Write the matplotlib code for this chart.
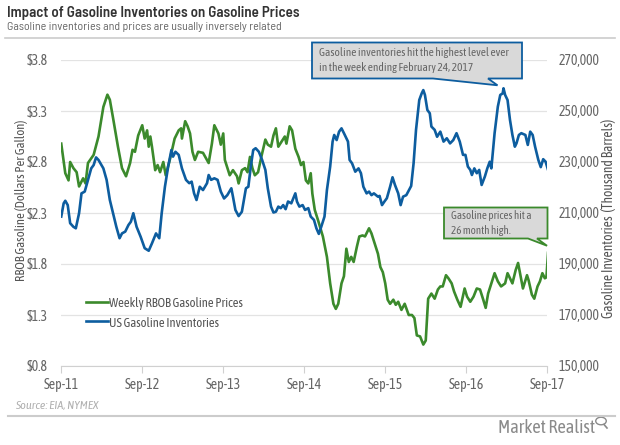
import matplotlib
matplotlib.use("Agg")
import matplotlib.pyplot as plt
from matplotlib.lines import Line2D
from matplotlib.patches import Polygon, Circle
import numpy as np

plt.rcParams['font.family'] = ['Asap Condensed', 'Lato', 'DejaVu Sans']
HEAD = ['Barlow Semi Condensed', 'Asap Condensed', 'DejaVu Sans']

# ---- data (x in decimal years) ----
price_t = [2011.67, 2011.72, 2011.76, 2011.78, 2011.82, 2011.86, 2011.89, 2011.94, 2011.97, 2012.00,
           2012.07, 2012.13, 2012.19, 2012.24, 2012.27, 2012.31, 2012.37, 2012.42, 2012.47, 2012.52,
           2012.55, 2012.58, 2012.62, 2012.67, 2012.70, 2012.73, 2012.75, 2012.77, 2012.79, 2012.83,
           2012.86, 2012.89, 2012.93, 2012.96, 2013.01, 2013.07, 2013.12, 2013.15, 2013.16, 2013.20,
           2013.23, 2013.26, 2013.29, 2013.32, 2013.36, 2013.42, 2013.49, 2013.53, 2013.56, 2013.61,
           2013.64, 2013.67, 2013.69, 2013.75, 2013.79, 2013.84, 2013.86, 2013.90, 2013.94, 2013.97,
           2014.00, 2014.03, 2014.06, 2014.10, 2014.14, 2014.19, 2014.22, 2014.26, 2014.29, 2014.32,
           2014.35, 2014.39, 2014.43, 2014.45, 2014.49, 2014.52, 2014.56, 2014.60, 2014.63, 2014.66,
           2014.69, 2014.72, 2014.75, 2014.77, 2014.80, 2014.84, 2014.90, 2014.95, 2014.99, 2015.03,
           2015.06, 2015.09, 2015.13, 2015.16, 2015.19, 2015.22, 2015.25, 2015.28, 2015.32, 2015.35,
           2015.39, 2015.42, 2015.47, 2015.50, 2015.54, 2015.58, 2015.61, 2015.64, 2015.67, 2015.70,
           2015.73, 2015.77, 2015.80, 2015.83, 2015.87, 2015.91, 2015.96, 2016.00, 2016.03, 2016.06,
           2016.10, 2016.14, 2016.17, 2016.20, 2016.24, 2016.28, 2016.32, 2016.35, 2016.38, 2016.42,
           2016.45, 2016.49, 2016.52, 2016.56, 2016.60, 2016.65, 2016.68, 2016.72, 2016.76, 2016.80,
           2016.84, 2016.88, 2016.91, 2016.94, 2016.98, 2017.02, 2017.06, 2017.10, 2017.15, 2017.18,
           2017.21, 2017.24, 2017.28, 2017.31, 2017.35, 2017.37, 2017.42, 2017.44, 2017.48, 2017.51,
           2017.55, 2017.58, 2017.61, 2017.64, 2017.66, 2017.68]
price_v = [2.98, 2.69, 2.62, 2.80, 2.74, 2.70, 2.56, 2.64, 2.59, 2.79,
           2.87, 3.05, 3.34, 3.46, 3.41, 3.23, 2.95, 2.74, 2.66, 2.79,
           2.92, 2.90, 3.06, 3.16, 3.03, 3.11, 2.95, 3.05, 2.95, 2.72,
           2.77, 2.70, 2.80, 2.67, 2.82, 3.03, 3.11, 3.13, 3.03, 3.20,
           3.15, 3.08, 2.90, 2.82, 2.90, 2.89, 2.79, 2.98, 3.16, 3.08,
           2.97, 3.08, 2.82, 2.67, 2.72, 2.66, 2.59, 2.72, 2.74, 2.70,
           2.85, 2.74, 2.67, 2.70, 2.85, 3.02, 2.97, 2.95, 3.06, 3.13,
           2.95, 3.00, 3.05, 2.98, 3.15, 3.11, 2.93, 2.85, 2.77, 2.80,
           2.62, 2.59, 2.69, 2.49, 2.33, 2.23, 2.07, 1.87, 1.61, 1.41,
           1.36, 1.41, 1.61, 1.68, 1.95, 1.82, 1.87, 1.82, 1.97, 2.07,
           2.08, 2.07, 2.15, 2.10, 2.00, 1.90, 1.77, 1.72, 1.61, 1.45,
           1.41, 1.45, 1.40, 1.43, 1.35, 1.41, 1.30, 1.30, 1.27, 1.10,
           1.09, 1.01, 1.05, 1.46, 1.51, 1.46, 1.55, 1.58, 1.58, 1.69,
           1.66, 1.61, 1.53, 1.45, 1.38, 1.56, 1.48, 1.43, 1.48, 1.56,
           1.55, 1.45, 1.37, 1.51, 1.61, 1.71, 1.63, 1.58, 1.61, 1.71,
           1.66, 1.61, 1.74, 1.81, 1.64, 1.56, 1.69, 1.64, 1.50, 1.46,
           1.58, 1.63, 1.71, 1.66, 1.67, 1.91]

inv_t = [2011.67, 2011.70, 2011.72, 2011.75, 2011.78, 2011.82, 2011.85, 2011.89, 2011.92, 2011.96,
         2012.00, 2012.04, 2012.07, 2012.10, 2012.13, 2012.19, 2012.23, 2012.27, 2012.31, 2012.35,
         2012.39, 2012.42, 2012.46, 2012.50, 2012.53, 2012.56, 2012.60, 2012.65, 2012.70, 2012.75,
         2012.79, 2012.84, 2012.88, 2012.91, 2012.95, 2012.99, 2013.03, 2013.05, 2013.08, 2013.12,
         2013.16, 2013.21, 2013.25, 2013.28, 2013.31, 2013.34, 2013.38, 2013.42, 2013.47, 2013.49,
         2013.52, 2013.56, 2013.60, 2013.64, 2013.68, 2013.72, 2013.77, 2013.79, 2013.82, 2013.86,
         2013.90, 2013.95, 2013.98, 2014.01, 2014.04, 2014.07, 2014.11, 2014.15, 2014.19, 2014.22,
         2014.26, 2014.29, 2014.32, 2014.35, 2014.38, 2014.41, 2014.44, 2014.47, 2014.51, 2014.56,
         2014.58, 2014.61, 2014.65, 2014.68, 2014.72, 2014.75, 2014.79, 2014.82, 2014.85, 2014.88,
         2014.92, 2014.95, 2014.99, 2015.02, 2015.04, 2015.07, 2015.10, 2015.13, 2015.16, 2015.21,
         2015.23, 2015.26, 2015.30, 2015.34, 2015.37, 2015.40, 2015.44, 2015.47, 2015.50, 2015.53,
         2015.58, 2015.60, 2015.63, 2015.66, 2015.69, 2015.73, 2015.76, 2015.79, 2015.83, 2015.86,
         2015.89, 2015.93, 2015.99, 2016.02, 2016.05, 2016.09, 2016.12, 2016.14, 2016.16, 2016.19,
         2016.22, 2016.24, 2016.28, 2016.31, 2016.35, 2016.39, 2016.43, 2016.47, 2016.51, 2016.55,
         2016.59, 2016.63, 2016.66, 2016.69, 2016.72, 2016.74, 2016.77, 2016.80, 2016.83, 2016.86,
         2016.90, 2016.93, 2016.96, 2016.98, 2017.02, 2017.06, 2017.09, 2017.12, 2017.13, 2017.15,
         2017.18, 2017.21, 2017.24, 2017.27, 2017.29, 2017.32, 2017.35, 2017.40, 2017.43, 2017.46,
         2017.49, 2017.52, 2017.56, 2017.59, 2017.62, 2017.65, 2017.68]
inv_v = [208600, 213800, 214800, 213100, 206000, 204600, 204000, 209900, 217700, 218400,
         223000, 227500, 228800, 231800, 230800, 227500, 223000, 215100, 209900, 204600,
         200100, 202000, 202700, 205300, 206600, 209900, 204600, 200700, 196200, 195200,
         198100, 202000, 200100, 209900, 220300, 228200, 234700, 232100, 234000, 232800,
         227500, 223000, 221700, 222300, 217700, 215100, 220300, 219000, 221700, 224900,
         223000, 223600, 223000, 218400, 215700, 217000, 219700, 216400, 211200, 208800,
         210500, 219700, 220300, 228200, 234700, 235400, 234000, 230800, 226900, 219700,
         212500, 210200, 210500, 212500, 211900, 213100, 211500, 214500, 213800, 217700,
         214500, 212500, 213100, 211200, 211900, 208600, 207300, 204000, 201800, 204600,
         208600, 219000, 228200, 238000, 240600, 238600, 241900, 243200, 241300, 238000,
         230800, 229500, 226200, 227500, 225600, 220300, 217700, 218400, 217000, 217700,
         216400, 216700, 213100, 214500, 215800, 220300, 224000, 221000, 217700, 213100,
         216400, 217000, 220600, 229500, 242600, 254300, 256900, 258200, 256300, 250400,
         249100, 243900, 242600, 239900, 241900, 238000, 239300, 237300, 238600, 241300,
         238000, 232800, 232800, 228200, 226900, 224900, 227500, 225600, 226900, 221000,
         224300, 227500, 230100, 227500, 241300, 251700, 256300, 256900, 258900, 256300,
         254300, 246500, 240600, 236000, 237300, 240600, 241300, 240600, 236700, 241900,
         240600, 236000, 230800, 228000, 231100, 230100, 226900]

x_ticks = [2011.667, 2012.667, 2013.667, 2014.667, 2015.667, 2016.667, 2017.667]
x_labels = ['Sep-11', 'Sep-12', 'Sep-13', 'Sep-14', 'Sep-15', 'Sep-16', 'Sep-17']
price_ticks = [0.8, 1.3, 1.8, 2.3, 2.8, 3.3, 3.8]
inv_ticks = [150000, 170000, 190000, 210000, 230000, 250000, 270000]

GREEN = '#3b8a2c'
BLUE = '#0d5d9f'
TXT = '#666666'
W, H = 620, 445

fig = plt.figure(figsize=(W / 100, H / 100), dpi=100)
fig.patch.set_facecolor('white')

def fx(x):
    return x / W

def fy(y):
    return 1 - y / H

ax = fig.add_axes([fx(61), fy(366), fx(547) - fx(61), fy(60) - fy(366)])
ax2 = ax.twinx()

ax.set_xlim(x_ticks[0], x_ticks[-1])
ax.set_ylim(0.8, 3.8)
ax2.set_ylim(150000, 270000)

ax.set_yticks(price_ticks)
ax.set_yticklabels(['$%.1f' % v for v in price_ticks])
ax2.set_yticks(inv_ticks)
ax2.set_yticklabels(['{:,}'.format(v) for v in inv_ticks])
ax.set_xticks(x_ticks)
ax.set_xticklabels(x_labels)

ax.grid(axis='y', color='#e3e3e3', linewidth=0.9)
ax.set_axisbelow(True)
for a in (ax, ax2):
    for s in ('top', 'left', 'right'):
        a.spines[s].set_visible(False)
    a.spines['bottom'].set_color('#d0d0d0')
ax2.spines['bottom'].set_visible(False)

ax.tick_params(axis='y', length=0, colors=TXT, labelsize=10, pad=9.5)
ax2.tick_params(axis='y', length=0, colors=TXT, labelsize=10, pad=8.5)
ax.tick_params(axis='x', length=5, color='#d0d0d0', colors=TXT, labelsize=10, pad=4)

ax.plot(price_t, price_v, color=GREEN, lw=1.9, solid_joinstyle='round', zorder=3)
ax2.plot(inv_t, inv_v, color=BLUE, lw=1.9, solid_joinstyle='round', zorder=3)

ylab_l = fig.text(fx(22), fy(200), 'RBOB Gasoline (Dollars Per Gallon)', rotation=90,
                  color='#555555', fontsize=10, va='center', ha='center')
ylab_r = fig.text(fx(608), fy(218), 'Gasoline Inventories  (Thousand Barrels)', rotation=90,
                  color='#555555', fontsize=10, va='center', ha='center')

handles = [Line2D([], [], color=GREEN, lw=1.9), Line2D([], [], color=BLUE, lw=1.9)]
leg = ax2.legend(handles, ['Weekly RBOB Gasoline Prices', 'US Gasoline Inventories'],
                 loc='upper left', bbox_to_anchor=(0.051, 0.227), frameon=False,
                 fontsize=10.5, handlelength=1.5, handletextpad=0.1, labelspacing=0.45,
                 borderaxespad=0, borderpad=0)
for t in leg.get_texts():
    t.set_color('#555555')

# header / footer
title = fig.text(fx(7), fy(13.5), 'Impact of Gasoline Inventories on Gasoline Prices',
                 fontsize=11, fontweight='semibold', color='#333333', va='center', ha='left',
                 family=HEAD)
sub = fig.text(fx(7), fy(27), 'Gasoline inventories and prices are usually inversely related',
               fontsize=10, color='#666666', va='center', ha='left', family=HEAD)
fig.add_artist(Line2D([fx(5), fx(615)], [fy(37.5), fy(37.5)], color='#cccccc', lw=1.2))
fig.add_artist(Line2D([fx(8), fx(615)], [fy(416), fy(416)], color='#cccccc', lw=1.5))
src = fig.text(fx(15), fy(405), 'Source: EIA, NYMEX', fontsize=9, style='italic',
               color='#b0b0b0', va='center', ha='left')
brand = fig.text(fx(595), fy(428), 'Market Realist', fontsize=14, color='#8a8a8a',
                 va='center', ha='right')
fig.add_artist(Circle((fx(601), fy(421)), 0.0085, transform=fig.transFigure,
                      fill=False, ec='#8a8a8a', lw=1))
fig.add_artist(Line2D([fx(604), fx(607)], [fy(424.5), fy(428)], color='#8a8a8a', lw=1.2))

# callouts
def to_fig_px(axis, x, y):
    dx, dy = axis.transData.transform((x, y))
    return dx, H - dy

def callout(x0, y0, x1, y1, base_a, base_b, tip, ec):
    pts = [(x0, y0), (x1, y0), (x1, y1), (base_b, y1), tip, (base_a, y1), (x0, y1)]
    poly = Polygon([(fx(px), fy(py)) for px, py in pts], closed=True,
                   transform=fig.transFigure, facecolor='#d9d9d9', edgecolor=ec,
                   lw=1.3, zorder=10)
    fig.add_artist(poly)

imax = int(np.argmax(inv_v))
tx, ty = to_fig_px(ax2, inv_t[imax], inv_v[imax])
callout(312, 42.5, 522, 78.5, 433, 488, (tx - 6, ty - 3), BLUE)
c1 = fig.text(fx(319), fy(60), 'Gasoline inventories hit the highest level ever\nin the week ending February 24, 2017',
              fontsize=9, color='#666666', va='center', ha='left', linespacing=1.35, zorder=11)

gx, gy = to_fig_px(ax, price_t[-1], price_v[-1])
callout(444, 207.5, 547.5, 238.5, 528, 537, (gx - 1, gy - 7), GREEN)
c2 = fig.text(fx(451), fy(223), 'Gasoline prices hit a\n26 month high.',
              fontsize=9, color='#666666', va='center', ha='left', linespacing=1.35, zorder=11)

# fit text sizes to the widths measured on the reference
fig.canvas.draw()
r = fig.canvas.get_renderer()
def fit(t, target, vertical=False):
    bb = t.get_window_extent(r)
    cur = bb.height if vertical else bb.width
    t.set_fontsize(t.get_fontsize() * target / cur)

fit(title, 292)
fit(sub, 275)
fit(c1, 189)
fit(c2, 81)
fit(src, 84)
fit(brand, 97)
fit(ylab_l, 165, vertical=True)
fit(ylab_r, 200, vertical=True)
fit(leg.get_texts()[0], 134)
leg.get_texts()[1].set_fontsize(leg.get_texts()[0].get_fontsize())

fig.savefig('out.png', dpi=100)
